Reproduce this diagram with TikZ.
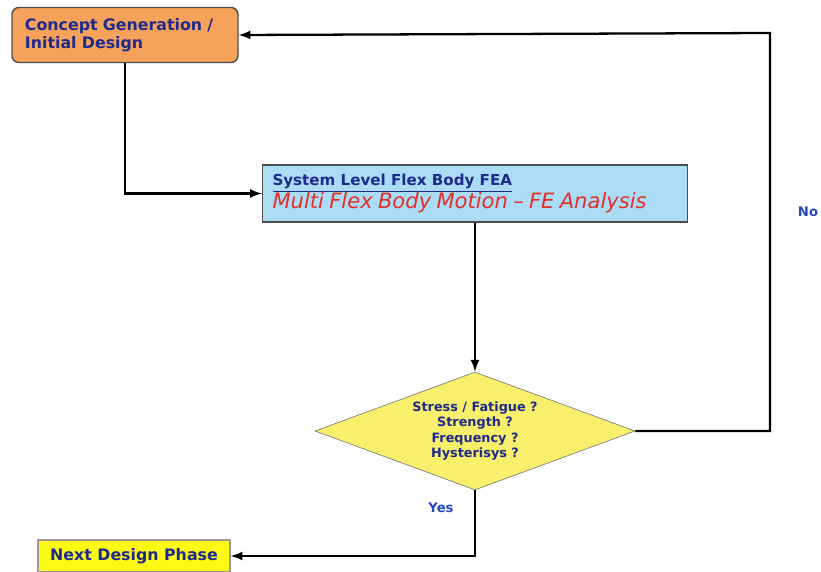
\documentclass[tikz,border=0pt]{standalone}
\usepackage{fontspec}
\setmainfont{DejaVu Sans}
\usepackage{tikz}
\usetikzlibrary{shapes.geometric}

\begin{document}
\begin{tikzpicture}[x=0.02cm,y=-0.02cm,>=latex]
% Define flow colors
\definecolor{concept}{RGB}{247,162,91}
\definecolor{fea}{RGB}{170,221,245}
\definecolor{check}{RGB}{248,240,106}
\definecolor{nextphase}{RGB}{255,250,20}
\definecolor{navy}{RGB}{30,42,140}
\definecolor{answer}{RGB}{35,70,200}
\definecolor{motion}{RGB}{230,45,40}
\tikzset{
  box/.style={draw=black!70,thick,inner sep=0pt,align=left,font=\bfseries\fontsize{9}{10.5}\selectfont,text=navy},
  answer/.style={font=\bfseries\fontsize{7.5}{9}\selectfont,text=answer},
  flow/.style={->,line width=1.3pt}
}
\useasboundingbox (0,0) rectangle (821,571);

% Draw steps
\node[box,fill=concept,rounded corners=4pt,minimum width=226*0.02cm,minimum height=55*0.02cm,text width=200*0.02cm] (concept) at (125,35) {Concept Generation /\\Initial Design};
\node[box,fill=fea,minimum width=425*0.02cm,minimum height=57*0.02cm,text width=405*0.02cm] (fea) at (475,193.5)
  {\underline{\fontsize{8.6}{9}\selectfont System Level Flex Body FEA}\\[-1pt]
   {\color{motion}\mdseries\itshape\fontsize{12}{13}\selectfont Multi Flex Body Motion -- FE Analysis}};
\node[diamond,aspect=2.7,draw=black!50,fill=check,inner sep=0pt,minimum width=320*0.02cm,minimum height=118*0.02cm,align=center,text=navy,font=\bfseries\fontsize{7.3}{8.6}\selectfont] (check) at (475,431)
  {Stress / Fatigue ?\\Strength ?\\Frequency ?\\Hysterisys ?};
\node[box,fill=nextphase,draw=black!40,align=center,minimum width=192*0.02cm,minimum height=32*0.02cm] (next) at (134,556) {Next Design Phase};

% Draw arrows
\coordinate (loop) at (770,33);
\draw[flow] (concept) |- (fea);
\draw[flow] (fea) -- (check);
\draw[flow] (check.east) -| (loop) -- (concept.east);
\draw[flow] (check.south) |- (next.east);

% Add answers
\node[answer] (yes) at (441,508) {Yes};
\node[answer] (no) at (808,212) {No};
\end{tikzpicture}
\end{document}
